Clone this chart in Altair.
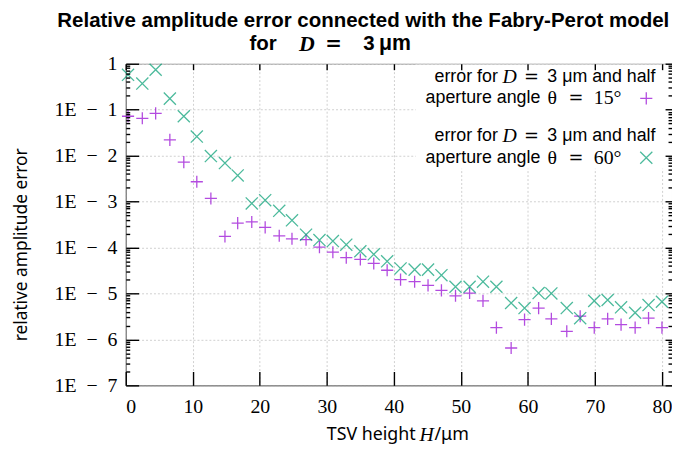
import altair as alt
import pandas as pd

# ---------------- data ----------------
tsv_height = [0.34, 2.47, 4.46, 6.58, 8.66, 10.6, 12.7, 14.8, 16.7, 18.8,
              20.8, 22.9, 24.8, 26.9, 28.9, 30.9, 32.9, 35.0, 37.0, 39.0,
              41.0, 43.1, 45.1, 47.1, 49.2, 51.3, 53.3, 55.3, 57.5, 59.5,
              61.6, 63.5, 65.8, 67.8, 69.9, 71.9, 73.9, 76.0, 78.0, 80.0]

err_theta15 = [0.072, 0.065, 0.083, 0.022, 0.0072, 0.0027, 0.00117, 1.74e-4, 3.4e-4, 3.6e-4,
               2.75e-4, 1.8e-4, 1.55e-4, 1.48e-4, 1.02e-4, 7.9e-5, 6.0e-5, 5.5e-5, 4.5e-5, 3.2e-5,
               2.0e-5, 1.8e-5, 1.5e-5, 1.17e-5, 8.9e-6, 1.02e-5, 6.9e-6, 1.8e-6, 6.5e-7, 2.7e-6,
               4.8e-6, 2.8e-6, 1.5e-6, 3.2e-6, 1.8e-6, 2.8e-6, 2.1e-6, 1.8e-6, 2.9e-6, 1.8e-6]

err_theta60 = [0.575, 0.37, 0.74, 0.174, 0.072, 0.026, 0.0098, 0.0069, 0.0037, 9.1e-4,
               1.07e-3, 6.3e-4, 3.9e-4, 1.9e-4, 1.45e-4, 1.38e-4, 1.15e-4, 8.3e-5, 7.1e-5, 5.0e-5,
               3.5e-5, 3.3e-5, 3.3e-5, 2.5e-5, 1.4e-5, 1.4e-5, 1.8e-5, 1.4e-5, 6.2e-6, 4.8e-6,
               1.02e-5, 1.0e-5, 4.8e-6, 2.9e-6, 6.9e-6, 7.2e-6, 5.0e-6, 3.8e-6, 5.6e-6, 6.6e-6]

series_names = ["θ = 15°", "θ = 60°"]
x_ticks = [0, 10, 20, 30, 40, 50, 60, 70, 80]
y_ticks = [1e-7, 1e-6, 1e-5, 1e-4, 1e-3, 1e-2, 1e-1, 1]
y_minor = [k * 10.0 ** e for e in range(-7, 0) for k in range(2, 10)]

title_line1 = "Relative amplitude error connected with the Fabry-Perot model"
title_line2 = ["for", "D", "=", "3", "μm"]
legend_top = ["error for", "D", "=", "3 μm and half"]
legend_a = ["aperture angle", "θ", "=", "15°"]
legend_b = ["aperture angle", "θ", "=", "60°"]
x_title = ["TSV height", "H", "/μm"]
y_title = "relative amplitude error"

rows = []
for h, a, b in zip(tsv_height, err_theta15, err_theta60):
    rows.append({"H": h, "err": a, "series": series_names[0]})
    rows.append({"H": h, "err": b, "series": series_names[1]})
df = pd.DataFrame(rows)

# ---------------- styling ----------------
W, H = 552, 325
PURPLE = "#9400d3"
GREEN = "#009e73"
PLUS = "M-1,0L1,0M0,-1L0,1"
CROSS = "M-1,-1L1,1M-1,1L1,-1"
SANS = "Liberation Sans"
SERIF = "Liberation Serif"
MATH = "DejaVu Sans"

x_scale = alt.Scale(domain=[0, 81.5], nice=False, zero=False)
y_scale = alt.Scale(type="log", domain=[1e-7, 1], nice=False)

base = alt.Chart(df)

label_expr = "datum.value >= 1 ? '1' : '1E\u2002−\u2002' + format(-log(datum.value)/LN10, '.0f')"

points = base.mark_point(filled=False, strokeWidth=1.3, opacity=0.7, size=150).encode(
    x=alt.X("H:Q", scale=x_scale,
            axis=alt.Axis(values=x_ticks, labelFont=SERIF, labelFontSize=20,
                          labelColor="black", labelPadding=11, tickSize=0,
                          grid=True, gridDash=[2, 2], gridColor="#cfcfcf",
                          domainColor="#777", title=None)),
    y=alt.Y("err:Q", scale=y_scale,
            axis=alt.Axis(values=y_ticks, labelExpr=label_expr, labelFont=SERIF,
                          labelFontSize=20, labelColor="black", labelPadding=9, tickSize=0,
                          grid=True, gridDash=[2, 2], gridColor="#cfcfcf",
                          domainColor="#777", title=None)),
    color=alt.Color("series:N", scale=alt.Scale(domain=series_names, range=[PURPLE, GREEN]), legend=None),
    shape=alt.Shape("series:N", scale=alt.Scale(domain=series_names, range=[PLUS, CROSS]), legend=None),
)


def tick_layer(xaxis=None, yaxis=None):
    return base.mark_point(opacity=0).encode(
        x=alt.X("H:Q", scale=x_scale, axis=xaxis),
        y=alt.Y("err:Q", scale=y_scale, axis=yaxis),
    )


def tick_axis(orient, offset, values, size):
    return alt.Axis(orient=orient, offset=offset, values=values, labels=False, domain=False,
                    grid=False, ticks=True, tickSize=size, tickColor="black", tickWidth=1.4,
                    title=None, zindex=1)


ticks_bottom = tick_layer(xaxis=tick_axis("top", -H, x_ticks, 14))
ticks_top = tick_layer(xaxis=tick_axis("bottom", -H, x_ticks, 6))
ticks_left = tick_layer(yaxis=tick_axis("right", -W, y_ticks, 13))
ticks_left_minor = tick_layer(yaxis=tick_axis("right", -W, y_minor, 4))
ticks_right = tick_layer(yaxis=tick_axis("left", -W, y_ticks, 7))
ticks_right_minor = tick_layer(yaxis=tick_axis("left", -W, y_minor, 4))

one = pd.DataFrame({"k": [0]})

legend_box = alt.Chart(one).mark_rect(color="white").encode(
    x=alt.value(293), x2=alt.value(W - 1), y=alt.value(1), y2=alt.value(106))


def text_at(txt, px, py, align, size, weight="normal", font=SANS, style="normal", angle=0):
    return alt.Chart(one).mark_text(text=txt, align=align, baseline="middle", fontSize=size,
                                    fontWeight=weight, font=font, fontStyle=style, angle=angle,
                                    color="black").encode(x=alt.value(px), y=alt.value(py))


def symbol_at(shape, color, px, py):
    return alt.Chart(one).mark_point(shape=shape, filled=False, strokeWidth=1.3, opacity=0.7,
                                     size=150, color=color).encode(x=alt.value(px), y=alt.value(py))


def legend_first_line(py):
    return [
        text_at(legend_top[0], 376, py, "right", 18),
        text_at(legend_top[1], 388, py, "center", 20, font=SERIF, style="italic"),
        text_at(legend_top[2], 410, py, "center", 18, font=MATH),
        text_at(legend_top[3], 426, py, "left", 18),
    ]


def legend_second_line(parts, py):
    return [
        text_at(parts[0], 303, py, "left", 18),
        text_at(parts[1], 431, py, "center", 20, font=SERIF),
        text_at(parts[2], 455, py, "center", 18, font=MATH),
        text_at(parts[3], 473, py, "left", 20, font=SERIF),
    ]


TY1, TY2 = -43, -20

layers = [
    points, ticks_bottom, ticks_top, ticks_left, ticks_left_minor, ticks_right, ticks_right_minor,
    legend_box,
    *legend_first_line(13),
    *legend_second_line(legend_a, 35),
    *legend_first_line(73),
    *legend_second_line(legend_b, 95),
    symbol_at(PLUS, PURPLE, 526, 35),
    symbol_at(CROSS, GREEN, 526, 95),
    # title
    text_at(title_line1, 240, TY1, "center", 20.7, "bold"),
    text_at(title_line2[0], 125, TY2, "left", 20.7, "bold"),
    text_at(title_line2[1], 183, TY2, "center", 22, "bold", font=SERIF, style="italic"),
    text_at(title_line2[2], 210, TY2, "center", 20, "bold", font=MATH),
    text_at(title_line2[3], 240, TY2, "left", 20.7, "bold"),
    text_at(title_line2[4], 256, TY2, "left", 21.5, "bold"),
    # axis titles
    text_at(x_title[0], 293, 375, "right", 18, font="Noto Sans"),
    text_at(x_title[1], 304, 375, "center", 20, font=SERIF, style="italic"),
    text_at(x_title[2], 312, 375, "left", 18, font="Noto Sans"),
    text_at(y_title, -105, 183, "center", 17.5, font="Noto Sans", angle=270),
]

chart = alt.layer(*layers).resolve_scale(x="shared", y="shared").resolve_axis(
    x="independent", y="independent"
).properties(
    width=W, height=H,
    autosize=alt.AutoSizeParams(type="none"),
    padding={"left": 119, "top": 54, "right": 0, "bottom": 62},
).configure_view(stroke="#9a9a9a", strokeWidth=1)

chart.save("out.html", embed_options={"renderer": "svg", "actions": False})
